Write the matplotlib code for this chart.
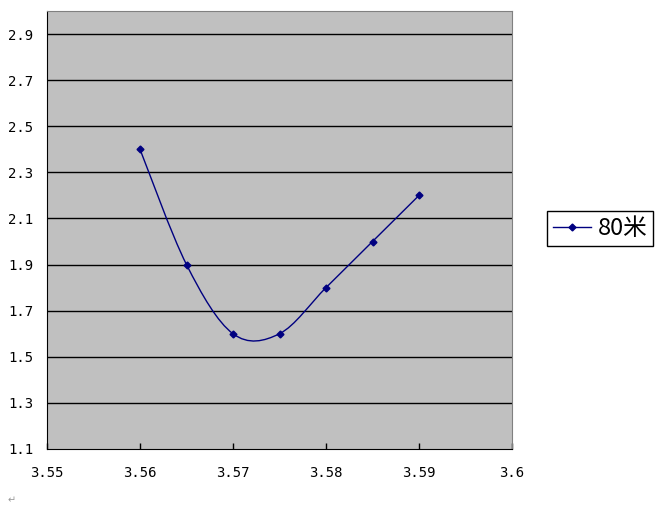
import matplotlib
matplotlib.use("Agg")
import matplotlib.pyplot as plt
from matplotlib.path import Path
from matplotlib.patches import PathPatch
from matplotlib.lines import Line2D

plt.rcParams['font.family'] = ['Noto Sans CJK SC', 'DejaVu Sans']

# data
x_vals = [3.56, 3.565, 3.57, 3.575, 3.58, 3.585, 3.59]
y_vals = [2.4, 1.9, 1.6, 1.6, 1.8, 2.0, 2.2]
series_name = "80米"
x_ticks = [3.55, 3.56, 3.57, 3.58, 3.59, 3.6]
x_labels = ["3.55", "3.56", "3.57", "3.58", "3.59", "3.6"]
y_ticks = [1.1, 1.3, 1.5, 1.7, 1.9, 2.1, 2.3, 2.5, 2.7, 2.9]

navy = "#000080"

fig = plt.figure(figsize=(6.63, 5.16), dpi=100)
ax = fig.add_axes([47 / 663, 1 - 449 / 516, (512 - 47) / 663, (449 - 11) / 516])
ax.set_facecolor("#C0C0C0")
ax.set_xlim(3.55, 3.6)
ax.set_ylim(1.1, 3.0)

# horizontal gridlines
for t in y_ticks[1:]:
    ax.axhline(t, color="black", lw=1, zorder=1)

# smoothed line (Excel-style Catmull-Rom bezier through the points)
n = len(x_vals)
verts = [(x_vals[0], y_vals[0])]
codes = [Path.MOVETO]
for i in range(n - 1):
    i0 = max(i - 1, 0)
    i3 = min(i + 2, n - 1)
    c1 = (x_vals[i] + (x_vals[i + 1] - x_vals[i0]) / 6,
          y_vals[i] + (y_vals[i + 1] - y_vals[i0]) / 6)
    c2 = (x_vals[i + 1] - (x_vals[i3] - x_vals[i]) / 6,
          y_vals[i + 1] - (y_vals[i3] - y_vals[i]) / 6)
    verts += [c1, c2, (x_vals[i + 1], y_vals[i + 1])]
    codes += [Path.CURVE4] * 3
ax.add_patch(PathPatch(Path(verts, codes), fill=False, edgecolor=navy, lw=1, zorder=3))
ax.plot(x_vals, y_vals, ls="none", marker="D", ms=3.5, color=navy, zorder=4)

ax.set_xticks(x_ticks)
ax.set_xticklabels(x_labels, family="DejaVu Sans Mono")
ax.set_yticks(y_ticks)
ax.set_yticklabels([f"{t:.1f}" for t in y_ticks], family="DejaVu Sans Mono")
ax.tick_params(axis="x", direction="in", length=4, width=1, pad=12, labelsize=10)
ax.tick_params(axis="y", length=0, pad=10, labelsize=10)

ax.spines["left"].set_color("black")
ax.spines["bottom"].set_color("black")
ax.spines["top"].set_color("#808080")
ax.spines["right"].set_color("#808080")

handle = Line2D([], [], color=navy, lw=1, marker="D", ms=3.5)
fig.legend([handle], [series_name], loc="center left",
           bbox_to_anchor=(547 / 663, 1 - 228.5 / 516), fontsize=17,
           frameon=True, fancybox=False, edgecolor="black", framealpha=1,
           handlelength=1.6, handletextpad=0.3, borderpad=0.25, borderaxespad=0)

fig.text(8 / 663, 1 - 500 / 516, "↵", fontsize=7, color="#999999",
         family="DejaVu Sans", va="center")

fig.savefig("out.png", dpi=100)
